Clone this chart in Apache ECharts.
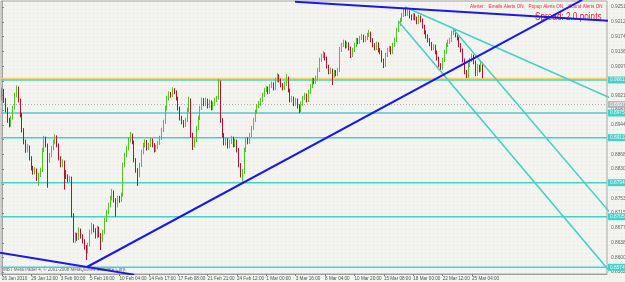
<!DOCTYPE html>
<html><head><meta charset="utf-8">
<script src="https://cdn.jsdelivr.net/npm/echarts@6/dist/echarts.min.js"></script>
<style>html,body{margin:0;padding:0;background:#f2f3ef}#c{width:625px;height:282px}</style>
</head><body><div id="c"></div>
<script>
// H4 bars, 26 Jan 2010 - 25 Mar 2010
const opens=[
.9015,.9030,.9009,.8983,.8957,.8944,.8962,.8988,.9022,.9040,
.9009,.8970,.8931,.8900,.8879,.8887,.8858,.8832,.8822,.8827,
.8806,.8814,.8827,.8879,.8910,.8892,.8853,.8866,.8884,.8900,
.8913,.8892,.8858,.8840,.8848,.8822,.8811,.8801,.8806,.8710,
.8645,.8658,.8650,.8671,.8655,.8642,.8627,.8616,.8632,.8666,
.8681,.8671,.8655,.8676,.8658,.8645,.8666,.8697,.8718,.8736,
.8754,.8770,.8749,.8736,.8754,.8749,.8762,.8840,.8866,.8884,
.8905,.8918,.8900,.8853,.8827,.8814,.8840,.8874,.8892,.8900,
.8884,.8892,.8905,.8892,.8879,.8887,.8897,.8910,.8931,.8952,
.8988,.9014,.9025,.9022,.9035,.9030,.9014,.8988,.8962,.8952,
.8944,.8957,.8983,.9009,.8918,.8892,.8905,.8936,.8962,.8988,
.9009,.8999,.9009,.8993,.9004,.8988,.8999,.9009,.9014,.9056,
.8957,.8918,.8897,.8905,.8889,.8900,.8910,.8892,.8902,.8879,
.8840,.8814,.8822,.8879,.8905,.8900,.8918,.8936,.8957,.8978,
.8993,.8999,.9009,.9022,.9035,.9040,.9030,.9045,.9051,.9040,
.9061,.9072,.9061,.9048,.9040,.9051,.9066,.9035,.9009,.9014,
.8999,.9009,.8993,.8983,.8999,.9014,.9022,.9009,.9030,.9045,
.9061,.9056,.9066,.9087,.9113,.9123,.9129,.9118,.9097,.9082,
.9087,.9072,.9082,.9077,.9087,.9139,.9152,.9160,.9149,.9155,
.9144,.9126,.9139,.9152,.9165,.9160,.9170,.9175,.9165,.9170,
.9178,.9183,.9165,.9152,.9144,.9155,.9139,.9134,.9113,.9100,
.9126,.9139,.9144,.9134,.9152,.9165,.9191,.9207,.9217,.9230,
.9243,.9233,.9238,.9227,.9222,.9230,.9222,.9212,.9225,.9217,
.9201,.9186,.9175,.9165,.9155,.9144,.9149,.9134,.9118,.9100,
.9092,.9113,.9134,.9152,.9160,.9165,.9183,.9188,.9178,.9170,
.9152,.9139,.9113,.9082,.9072,.9100,.9113,.9123,.9108,.9077,
.9097,.9087,.9103];
const closes=[
.9030,.9009,.8983,.8957,.8944,.8962,.8988,.9022,.9040,.9009,
.8970,.8931,.8900,.8879,.8887,.8858,.8832,.8822,.8827,.8806,
.8814,.8827,.8879,.8910,.8892,.8853,.8866,.8884,.8900,.8913,
.8892,.8858,.8840,.8848,.8822,.8811,.8801,.8806,.8710,.8645,
.8658,.8650,.8671,.8655,.8642,.8627,.8616,.8632,.8666,.8681,
.8671,.8655,.8676,.8658,.8645,.8666,.8697,.8718,.8736,.8754,
.8770,.8749,.8736,.8754,.8749,.8762,.8840,.8866,.8884,.8905,
.8918,.8900,.8853,.8827,.8814,.8840,.8874,.8892,.8900,.8884,
.8892,.8905,.8892,.8879,.8887,.8897,.8910,.8931,.8952,.8988,
.9014,.9025,.9022,.9035,.9030,.9014,.8988,.8962,.8952,.8944,
.8957,.8983,.9009,.8918,.8892,.8905,.8936,.8962,.8988,.9009,
.8999,.9009,.8993,.9004,.8988,.8999,.9009,.9014,.9056,.8957,
.8918,.8897,.8905,.8889,.8900,.8910,.8892,.8902,.8879,.8840,
.8814,.8822,.8879,.8905,.8900,.8918,.8936,.8957,.8978,.8993,
.8999,.9009,.9022,.9035,.9040,.9030,.9045,.9051,.9040,.9061,
.9072,.9061,.9048,.9040,.9051,.9066,.9035,.9009,.9014,.8999,
.9009,.8993,.8983,.8999,.9014,.9022,.9009,.9030,.9045,.9061,
.9056,.9066,.9087,.9113,.9123,.9129,.9118,.9097,.9082,.9087,
.9072,.9082,.9077,.9087,.9139,.9152,.9160,.9149,.9155,.9144,
.9126,.9139,.9152,.9165,.9160,.9170,.9175,.9165,.9170,.9178,
.9183,.9165,.9152,.9144,.9155,.9139,.9134,.9113,.9100,.9126,
.9139,.9144,.9134,.9152,.9165,.9191,.9207,.9217,.9230,.9243,
.9233,.9238,.9227,.9222,.9230,.9222,.9212,.9225,.9217,.9201,
.9186,.9175,.9165,.9155,.9144,.9149,.9134,.9118,.9100,.9092,
.9113,.9134,.9152,.9160,.9165,.9183,.9188,.9178,.9170,.9152,
.9139,.9113,.9082,.9072,.9100,.9113,.9123,.9108,.9077,.9097,
.9087,.9103,.9072];
const lows=[
.9008,.9002,.8977,.8950,.8938,.8940,.8958,.8984,.9016,.9003,
.8964,.8925,.8894,.8872,.8873,.8852,.8826,.8815,.8816,.8799,
.8786,.8809,.8822,.8874,.8886,.8781,.8846,.8860,.8878,.8894,
.8886,.8852,.8834,.8834,.8776,.8804,.8795,.8796,.8704,.8638,
.8638,.8643,.8645,.8649,.8636,.8620,.8593,.8610,.8628,.8660,
.8665,.8649,.8650,.8652,.8619,.8640,.8661,.8692,.8712,.8730,
.8748,.8743,.8706,.8730,.8742,.8744,.8758,.8834,.8860,.8878,
.8899,.8894,.8847,.8820,.8786,.8808,.8835,.8868,.8886,.8878,
.8879,.8887,.8886,.8873,.8874,.8882,.8892,.8905,.8926,.8947,
.8982,.9008,.9015,.9017,.9024,.9008,.8982,.8956,.8946,.8937,
.8939,.8952,.8978,.8912,.8879,.8886,.8900,.8931,.8957,.8983,
.8993,.8994,.8987,.8988,.8982,.8983,.8994,.9004,.9010,.8950,
.8912,.8891,.8891,.8883,.8884,.8895,.8886,.8887,.8873,.8834,
.8808,.8793,.8817,.8874,.8894,.8895,.8913,.8931,.8952,.8973,
.8988,.8994,.9004,.9017,.9030,.9024,.9025,.9040,.9034,.9035,
.9056,.9055,.9042,.9034,.9035,.9046,.9029,.9003,.9003,.8993,
.8994,.8987,.8975,.8978,.8994,.9009,.9003,.9004,.9025,.9040,
.9050,.9051,.9061,.9082,.9108,.9118,.9112,.9091,.9076,.9077,
.9048,.9067,.9071,.9072,.9082,.9134,.9147,.9143,.9144,.9138,
.9118,.9121,.9134,.9147,.9154,.9155,.9165,.9159,.9160,.9165,
.9173,.9159,.9146,.9138,.9139,.9133,.9128,.9107,.9092,.9095,
.9121,.9134,.9128,.9129,.9147,.9160,.9186,.9202,.9212,.9225,
.9227,.9228,.9221,.9216,.9217,.9216,.9206,.9207,.9211,.9195,
.9180,.9169,.9159,.9149,.9138,.9139,.9128,.9112,.9094,.9087,
.9087,.9108,.9129,.9147,.9155,.9160,.9178,.9172,.9164,.9146,
.9133,.9107,.9076,.9066,.9067,.9095,.9108,.9102,.9071,.9072,
.9081,.9082,.9066];
const highs=[
.9042,.9038,.9014,.8990,.8963,.8968,.8994,.9028,.9047,.9044,
.9013,.8976,.8936,.8906,.8895,.8891,.8863,.8838,.8834,.8831,
.8820,.8833,.8885,.8916,.8914,.8896,.8872,.8890,.8906,.8920,
.8917,.8896,.8863,.8855,.8852,.8827,.8816,.8812,.8810,.8715,
.8665,.8664,.8678,.8675,.8660,.8647,.8632,.8638,.8672,.8690,
.8686,.8676,.8682,.8680,.8663,.8672,.8703,.8724,.8742,.8760,
.8778,.8774,.8754,.8760,.8760,.8768,.8846,.8872,.8890,.8912,
.8926,.8922,.8904,.8858,.8832,.8846,.8880,.8898,.8907,.8905,
.8898,.8911,.8909,.8897,.8893,.8903,.8916,.8937,.8958,.8994,
.9020,.9032,.9030,.9042,.9040,.9034,.9018,.8992,.8968,.8957,
.8963,.8989,.9018,.9013,.8924,.8911,.8942,.8968,.8994,.9016,
.9014,.9015,.9013,.9010,.9008,.9005,.9015,.9020,.9064,.9060,
.8962,.8923,.8911,.8910,.8906,.8916,.8914,.8908,.8906,.8884,
.8845,.8830,.8885,.8911,.8912,.8924,.8942,.8963,.8984,.8999,
.9006,.9015,.9028,.9041,.9046,.9044,.9051,.9057,.9055,.9067,
.9079,.9076,.9065,.9053,.9057,.9077,.9070,.9039,.9020,.9018,
.9015,.9013,.8998,.9005,.9020,.9028,.9026,.9036,.9051,.9067,
.9066,.9072,.9093,.9119,.9129,.9136,.9133,.9122,.9101,.9093,
.9091,.9088,.9087,.9093,.9147,.9158,.9166,.9164,.9161,.9159,
.9148,.9145,.9158,.9171,.9170,.9176,.9181,.9179,.9176,.9184,
.9191,.9187,.9170,.9157,.9161,.9159,.9144,.9138,.9117,.9132,
.9145,.9150,.9149,.9158,.9171,.9197,.9213,.9223,.9236,.9248,
.9247,.9244,.9242,.9232,.9236,.9234,.9226,.9231,.9229,.9221,
.9205,.9190,.9180,.9170,.9160,.9155,.9153,.9138,.9122,.9105,
.9119,.9140,.9158,.9166,.9171,.9189,.9196,.9192,.9183,.9174,
.9157,.9143,.9117,.9087,.9106,.9119,.9129,.9127,.9112,.9103,
.9101,.9113,.9107];

const xTickLabels=['26 Jan 2010','29 Jan 12:00','3 Feb 00:00','5 Feb 16:00','10 Feb 04:00','14 Feb 17:00','17 Feb 08:00','21 Feb 21:00','24 Feb 12:00','1 Mar 00:00','3 Mar 16:00','8 Mar 04:00','10 Mar 20:00','15 Mar 08:00','18 Mar 00:00','22 Mar 12:00','25 Mar 04:00'];
const yTickValues=[0.92510,0.92120,0.91740,0.91360,0.90970,0.90590,0.90210,0.89830,0.89440,0.89060,0.88680,0.88300,0.87910,0.87530,0.87150,0.86770,0.86380,0.86000,0.85620];
const cyanLevels=[0.90612,0.89754,0.89112,0.87942,0.87058,0.85742];
const yellowLevel=0.90650;
const greyLevel=0.89975;
// trend lines: [barIndex, price] anchor pairs
const blueLines=[
  [[-1,0.8612],[72,0.8555]],
  [[46.3,0.8575],[316,0.92695]],
  [[159.6,0.92648],[340,0.92123]]
];
const cyanLines=[
  [[219.5,0.9251],[340,0.8996]],
  [[215.7,0.9215],[340,0.8513]],
  [[245.7,0.9194],[340,0.8667]]
];
const SLOTS=330;
const Y_MIN=0.85568, Y_MAX=0.92666;

const FONT='"Liberation Sans", Arial, sans-serif';
const cats=[];for(let i=0;i<SLOTS;i++)cats.push(String(i));
const candles=closes.map((c,i)=>[opens[i],c,lows[i],highs[i]]);
const labelInterval=(i)=>i%16===0 && i/16<xTickLabels.length;

// faint dotted chart texture
const pat=document.createElement('canvas');pat.width=4;pat.height=4;
(function(){const g=pat.getContext('2d');g.fillStyle='#f3f4f0';g.fillRect(0,0,4,4);g.fillStyle='#e3e5df';g.fillRect(1,1,1,1);})();

function levelSeries(v,color,width,type,lbl,lblBg,lblColor,z){
  return {type:'line',xAxisIndex:1,yAxisIndex:0,data:[[-0.5,v],[SLOTS-0.5,v]],symbol:'none',silent:true,clip:false,
    lineStyle:{color:color,width:width,type:type},z:z,
    endLabel:{show:lbl,formatter:()=>v.toFixed(5),distance:1,backgroundColor:lblBg,color:lblColor,fontSize:4.8,fontFamily:FONT,padding:[1,2,0,2],lineHeight:6}};
}

const series=[];
series.push(levelSeries(yellowLevel,'#f2d56b',1.5,'solid',false,null,null,1));
series.push(levelSeries(greyLevel,'#b4b4b4',1,[1,2],true,'#b8b8b8','#ffffff',1));
cyanLevels.forEach(v=>series.push(levelSeries(v,'#48cfc8',1.6,'solid',true,'#48cfc8','#e8fbfa',1)));
series.push({
  type:'candlestick',xAxisIndex:0,yAxisIndex:0,data:candles,barWidth:1.3,
  itemStyle:{color:'#52c42a',color0:'#b3132b',borderColor:'#52c42a',borderColor0:'#b3132b',borderWidth:1},
  z:2
});
blueLines.forEach(l=>series.push({type:'line',xAxisIndex:1,yAxisIndex:0,data:l,symbol:'none',silent:true,clip:true,
  lineStyle:{color:'#1a1ae6',width:2},z:4}));
cyanLines.forEach(l=>series.push({type:'line',xAxisIndex:1,yAxisIndex:0,data:l,symbol:'none',silent:true,clip:true,
  lineStyle:{color:'#48cfc8',width:1.6},z:3}));

const chart=echarts.init(document.getElementById('c'),null,{renderer:'canvas'});
chart.setOption({
  animation:false,
  backgroundColor:{image:pat,repeat:'repeat'},
  grid:{left:1,right:18,top:1,bottom:8,show:true,borderColor:'#a8a8a8',borderWidth:1,containLabel:false,outerBoundsMode:'none'},
  xAxis:[{
    type:'category',data:cats,boundaryGap:true,
    axisLine:{show:true,lineStyle:{color:'#a0a0a0'}},
    axisTick:{show:true,alignWithLabel:true,interval:labelInterval,length:2,lineStyle:{color:'#808080'}},
    axisLabel:{show:true,interval:labelInterval,showMinLabel:true,hideOverlap:false,align:'left',margin:2,fontSize:4.6,color:'#555',fontFamily:FONT,
      formatter:(v,i)=>xTickLabels[i/16]||''},
    splitLine:{show:false}
  },{
    type:'value',min:-0.5,max:SLOTS-0.5,show:false
  }],
  yAxis:[{
    type:'value',position:'right',min:Y_MIN,max:Y_MAX,scale:true,
    axisLine:{show:true,lineStyle:{color:'#a0a0a0'}},
    axisTick:{show:true,length:2,customValues:yTickValues,lineStyle:{color:'#808080'}},
    axisLabel:{show:true,customValues:yTickValues,margin:4,fontSize:4.8,color:'#666',fontFamily:FONT,
      formatter:v=>v.toFixed(5)},
    splitLine:{show:false}
  }],
  series:series,
  graphic:[
    {type:'text',x:470,y:6,scaleX:0.82,silent:true,style:{text:'Alerter:   Emails Alerts ON,   Popup Alerts ON,   Sound Alerts ON',fill:'#ff2b2b',font:'5.6px '+FONT,verticalAlign:'middle'}},
    {type:'text',x:535,y:17,scaleX:0.82,silent:true,style:{text:'Spread: 2.0 points',fill:'#ff1f1f',font:'10px '+FONT,verticalAlign:'middle'}},
    {type:'text',x:3,y:269,scaleX:0.82,silent:true,style:{text:'MBT MetaTrader 4, © 2001-2008 MetaQuotes Software Corp.',fill:'#6a6a6a',font:'5.5px '+FONT,verticalAlign:'middle'}}
  ]
});
</script></body></html>
